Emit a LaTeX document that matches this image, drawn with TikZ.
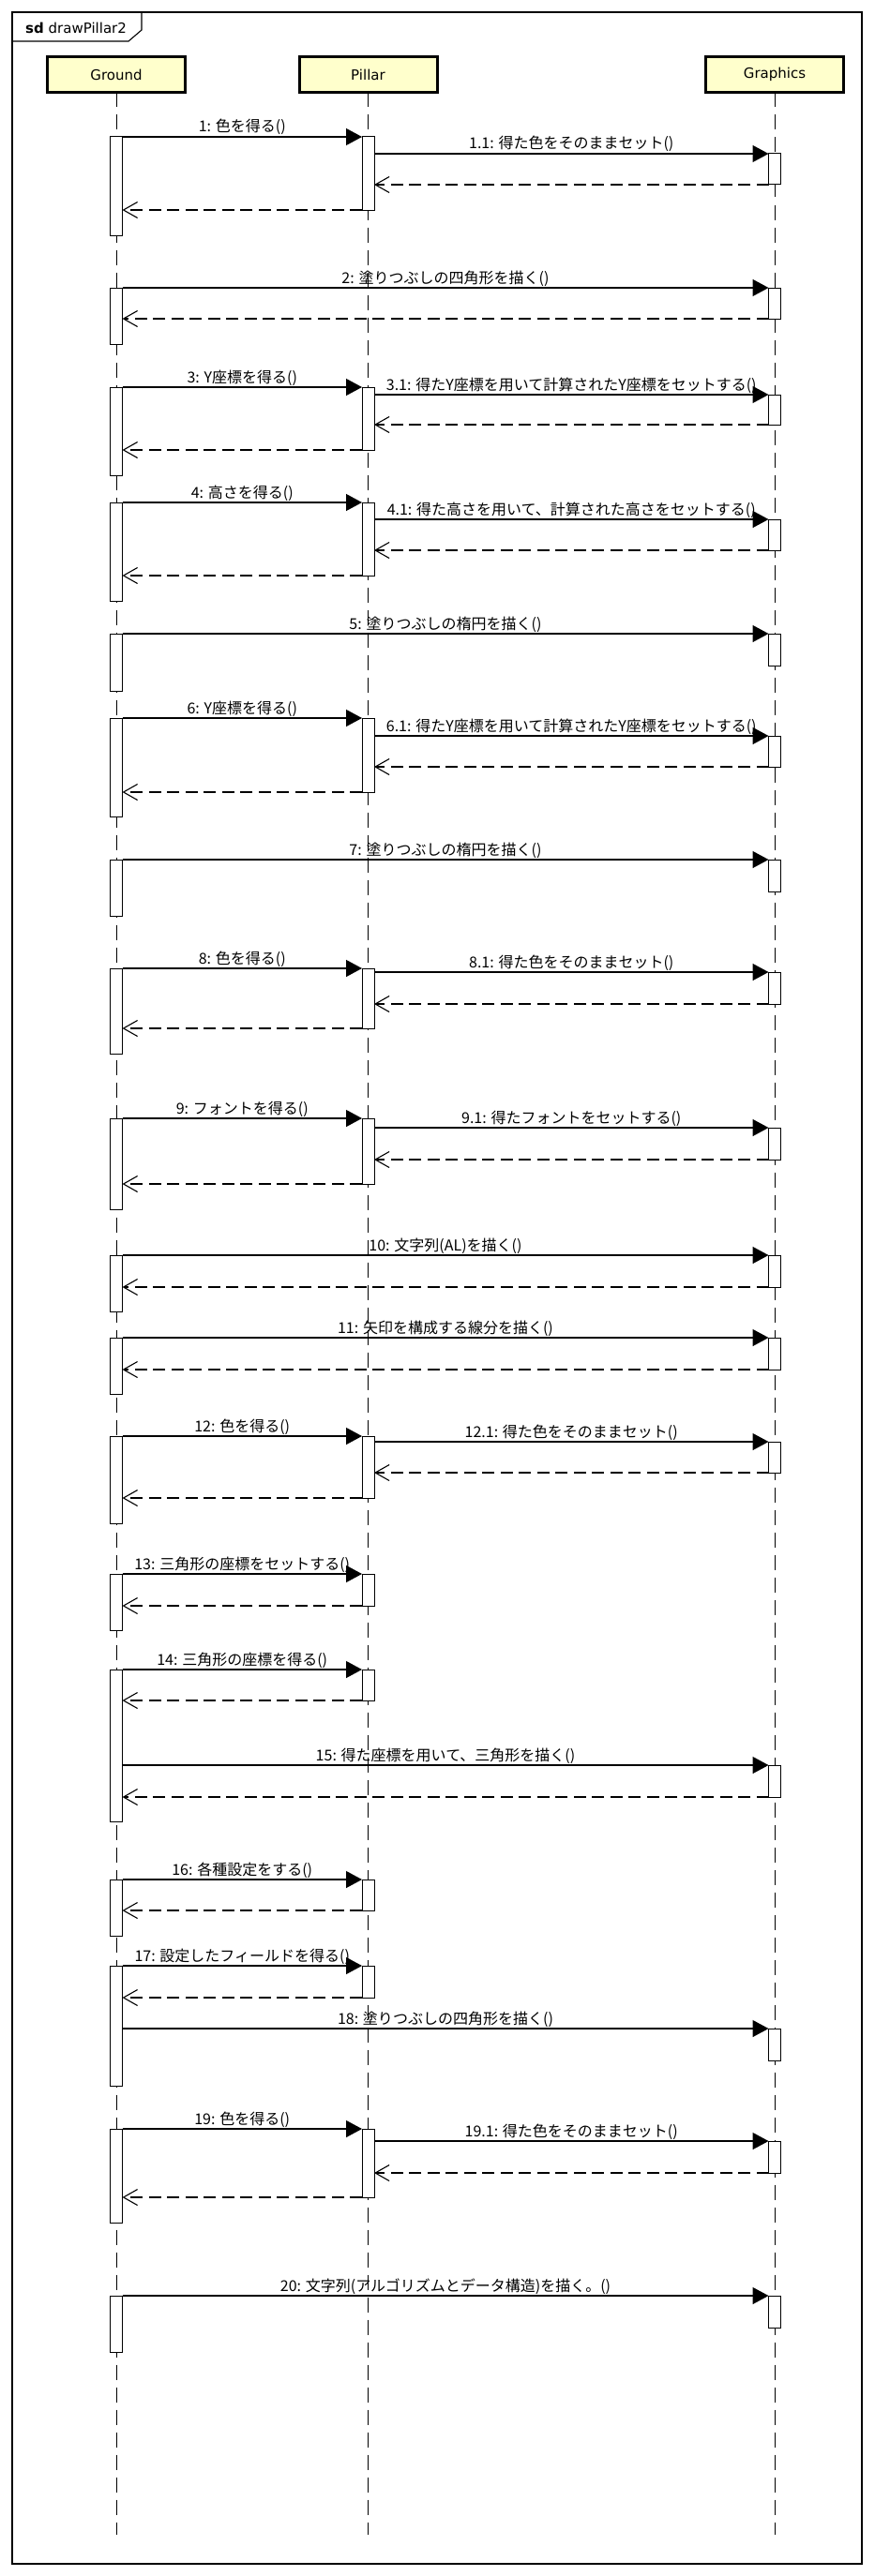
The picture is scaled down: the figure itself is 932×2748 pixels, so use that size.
\documentclass[tikz,border=0pt]{standalone}
\usepackage{fontspec}
\setmainfont{DejaVu Sans}
\newfontfamily\jpfont{Noto Sans CJK JP}
\usetikzlibrary{arrows.meta}
\definecolor{headfill}{RGB}{255,255,204}
\newcommand\actv[4]{\node[act, minimum height=#4pt-#3pt] (#1) at (#2,#3) {};}
\begin{document}
\begin{tikzpicture}[x=1pt,y=-1pt,
  frame/.style={draw=black, line width=1.3pt},
  tab/.style={draw=black, line width=1.1pt},
  title/.style={anchor=base west, inner sep=0pt, font=\fontsize{15}{18}\selectfont},
  head/.style={draw=black, line width=3pt, fill=headfill, minimum width=147pt, minimum height=38pt, inner sep=0pt, outer sep=0pt, font=\fontsize{15}{18}\selectfont},
  lifeline/.style={draw=black, line width=1pt, dash pattern=on 16pt off 8pt},
  act/.style={draw=black, fill=white, line width=1pt, minimum width=13pt, inner sep=0pt, outer sep=0pt, anchor=north},
  call/.style={draw=black, line width=1.3pt, -{Triangle[length=17pt,width=18pt]}},
  ret/.style={draw=black, line width=1.1pt, dash pattern=on 13pt off 6.5pt, -{Straight Barb[length=15pt,width=17pt,line width=1.1pt]}},
  lbl/.style={midway, anchor=base, yshift=5pt, inner sep=0pt, font=\jpfont\fontsize{16}{19}\selectfont},
]
\useasboundingbox (0,0) rectangle (932,2748);
% frame
\draw[frame] (13,13) rectangle (919,2735);
\draw[tab] (13,44) -- (137,44) -- (151,32) -- (151,13);
\node[title] (ttl) at (27,36) {\textbf{sd} drawPillar2};
% heads
\node[head] (hG) at (124,79.5) {Ground};
\node[head] (hP) at (392.5,79.5) {Pillar};
\node[head] (hX) at (826,79.5) {Graphics};
\coordinate (eG) at (124,2704);
\coordinate (eP) at (392.5,2704);
\coordinate (eX) at (826,2704);
\draw[lifeline] (hG.south) -- (eG);
\draw[lifeline] (hP.south) -- (eP);
\draw[lifeline] (hX.south) -- (eX);
% activations
\actv{gA1}{124}{146}{251}
\actv{pA1}{392.5}{146}{224}
\actv{xA1}{826}{164}{197}
\actv{gA2}{124}{307}{367}
\actv{xA2}{826}{307}{340}
\actv{gA3}{124}{413}{507}
\actv{pA3}{392.5}{413}{480}
\actv{xA3}{826}{421}{453}
\actv{gA4}{124}{536}{641}
\actv{pA4}{392.5}{536}{614}
\actv{xA4}{826}{554}{587}
\actv{gA5}{124}{676}{737}
\actv{xA5}{826}{676}{710}
\actv{gA6}{124}{766}{871}
\actv{pA6}{392.5}{766}{845}
\actv{xA6}{826}{785}{818}
\actv{gA7}{124}{917}{977}
\actv{xA7}{826}{917}{951}
\actv{gA8}{124}{1033}{1124}
\actv{pA8}{392.5}{1033}{1097}
\actv{xA8}{826}{1037}{1071}
\actv{gA9}{124}{1193}{1290}
\actv{pA9}{392.5}{1193}{1263}
\actv{xA9}{826}{1203}{1237}
\actv{gA10}{124}{1339}{1399}
\actv{xA10}{826}{1339}{1373}
\actv{gA11}{124}{1427}{1487}
\actv{xA11}{826}{1427}{1461}
\actv{gA12}{124}{1532}{1625}
\actv{pA12}{392.5}{1532}{1598}
\actv{xA12}{826}{1538}{1571}
\actv{gA13}{124}{1679}{1739}
\actv{pA13}{392.5}{1679}{1713}
\actv{gA14}{124}{1781}{1943}
\actv{pA14}{392.5}{1781}{1814}
\actv{xA15}{826}{1883}{1917}
\actv{gA16}{124}{2005}{2065}
\actv{pA16}{392.5}{2005}{2038}
\actv{gA17}{124}{2097}{2225}
\actv{pA17}{392.5}{2097}{2131}
\actv{xA18}{826}{2164}{2198}
\actv{gA19}{124}{2271}{2371}
\actv{pA19}{392.5}{2271}{2344}
\actv{xA19}{826}{2284}{2318}
\actv{gA20}{124}{2449}{2509}
\actv{xA20}{826}{2449}{2483}
% messages
\draw[call] (gA1.north east) -- node[lbl] (t1) {1: 色を得る()} (pA1.north west);
\draw[call] (pA1.east |- xA1.north) -- node[lbl] (t1a) {1.1: 得た色をそのままセット()} (xA1.north west);
\draw[ret] (xA1.south west) -- (pA1.east |- xA1.south);
\draw[ret] (pA1.south west) -- (gA1.east |- pA1.south);

\draw[call] (gA2.north east) -- node[lbl] (t2) {2: 塗りつぶしの四角形を描く()} (xA2.north west);
\draw[ret] (xA2.south west) -- (gA2.east |- xA2.south);

\draw[call] (gA3.north east) -- node[lbl] (t3) {3: Y座標を得る()} (pA3.north west);
\draw[call] (pA3.east |- xA3.north) -- node[lbl] (t3a) {3.1: 得たY座標を用いて計算されたY座標をセットする()} (xA3.north west);
\draw[ret] (xA3.south west) -- (pA3.east |- xA3.south);
\draw[ret] (pA3.south west) -- (gA3.east |- pA3.south);

\draw[call] (gA4.north east) -- node[lbl] (t4) {4: 高さを得る()} (pA4.north west);
\draw[call] (pA4.east |- xA4.north) -- node[lbl] (t4a) {4.1: 得た高さを用いて、計算された高さをセットする()} (xA4.north west);
\draw[ret] (xA4.south west) -- (pA4.east |- xA4.south);
\draw[ret] (pA4.south west) -- (gA4.east |- pA4.south);

\draw[call] (gA5.north east) -- node[lbl] (t5) {5: 塗りつぶしの楕円を描く()} (xA5.north west);

\draw[call] (gA6.north east) -- node[lbl] (t6) {6: Y座標を得る()} (pA6.north west);
\draw[call] (pA6.east |- xA6.north) -- node[lbl] (t6a) {6.1: 得たY座標を用いて計算されたY座標をセットする()} (xA6.north west);
\draw[ret] (xA6.south west) -- (pA6.east |- xA6.south);
\draw[ret] (pA6.south west) -- (gA6.east |- pA6.south);

\draw[call] (gA7.north east) -- node[lbl] (t7) {7: 塗りつぶしの楕円を描く()} (xA7.north west);

\draw[call] (gA8.north east) -- node[lbl] (t8) {8: 色を得る()} (pA8.north west);
\draw[call] (pA8.east |- xA8.north) -- node[lbl] (t8a) {8.1: 得た色をそのままセット()} (xA8.north west);
\draw[ret] (xA8.south west) -- (pA8.east |- xA8.south);
\draw[ret] (pA8.south west) -- (gA8.east |- pA8.south);

\draw[call] (gA9.north east) -- node[lbl] (t9) {9: フォントを得る()} (pA9.north west);
\draw[call] (pA9.east |- xA9.north) -- node[lbl] (t9a) {9.1: 得たフォントをセットする()} (xA9.north west);
\draw[ret] (xA9.south west) -- (pA9.east |- xA9.south);
\draw[ret] (pA9.south west) -- (gA9.east |- pA9.south);

\draw[call] (gA10.north east) -- node[lbl] (t10) {10: 文字列(AL)を描く()} (xA10.north west);
\draw[ret] (xA10.south west) -- (gA10.east |- xA10.south);

\draw[call] (gA11.north east) -- node[lbl] (t11) {11: 矢印を構成する線分を描く()} (xA11.north west);
\draw[ret] (xA11.south west) -- (gA11.east |- xA11.south);

\draw[call] (gA12.north east) -- node[lbl] (t12) {12: 色を得る()} (pA12.north west);
\draw[call] (pA12.east |- xA12.north) -- node[lbl] (t12a) {12.1: 得た色をそのままセット()} (xA12.north west);
\draw[ret] (xA12.south west) -- (pA12.east |- xA12.south);
\draw[ret] (pA12.south west) -- (gA12.east |- pA12.south);

\draw[call] (gA13.north east) -- node[lbl] (t13) {13: 三角形の座標をセットする()} (pA13.north west);
\draw[ret] (pA13.south west) -- (gA13.east |- pA13.south);

\draw[call] (gA14.north east) -- node[lbl] (t14) {14: 三角形の座標を得る()} (pA14.north west);
\draw[ret] (pA14.south west) -- (gA14.east |- pA14.south);

\draw[call] (gA14.east |- xA15.north) -- node[lbl] (t15) {15: 得た座標を用いて、三角形を描く()} (xA15.north west);
\draw[ret] (xA15.south west) -- (gA14.east |- xA15.south);

\draw[call] (gA16.north east) -- node[lbl] (t16) {16: 各種設定をする()} (pA16.north west);
\draw[ret] (pA16.south west) -- (gA16.east |- pA16.south);

\draw[call] (gA17.north east) -- node[lbl] (t17) {17: 設定したフィールドを得る()} (pA17.north west);
\draw[ret] (pA17.south west) -- (gA17.east |- pA17.south);

\draw[call] (gA17.east |- xA18.north) -- node[lbl] (t18) {18: 塗りつぶしの四角形を描く()} (xA18.north west);

\draw[call] (gA19.north east) -- node[lbl] (t19) {19: 色を得る()} (pA19.north west);
\draw[call] (pA19.east |- xA19.north) -- node[lbl] (t19a) {19.1: 得た色をそのままセット()} (xA19.north west);
\draw[ret] (xA19.south west) -- (pA19.east |- xA19.south);
\draw[ret] (pA19.south west) -- (gA19.east |- pA19.south);

\draw[call] (gA20.north east) -- node[lbl] (t20) {20: 文字列(アルゴリズムとデータ構造)を描く。()} (xA20.north west);
\end{tikzpicture}
\end{document}
